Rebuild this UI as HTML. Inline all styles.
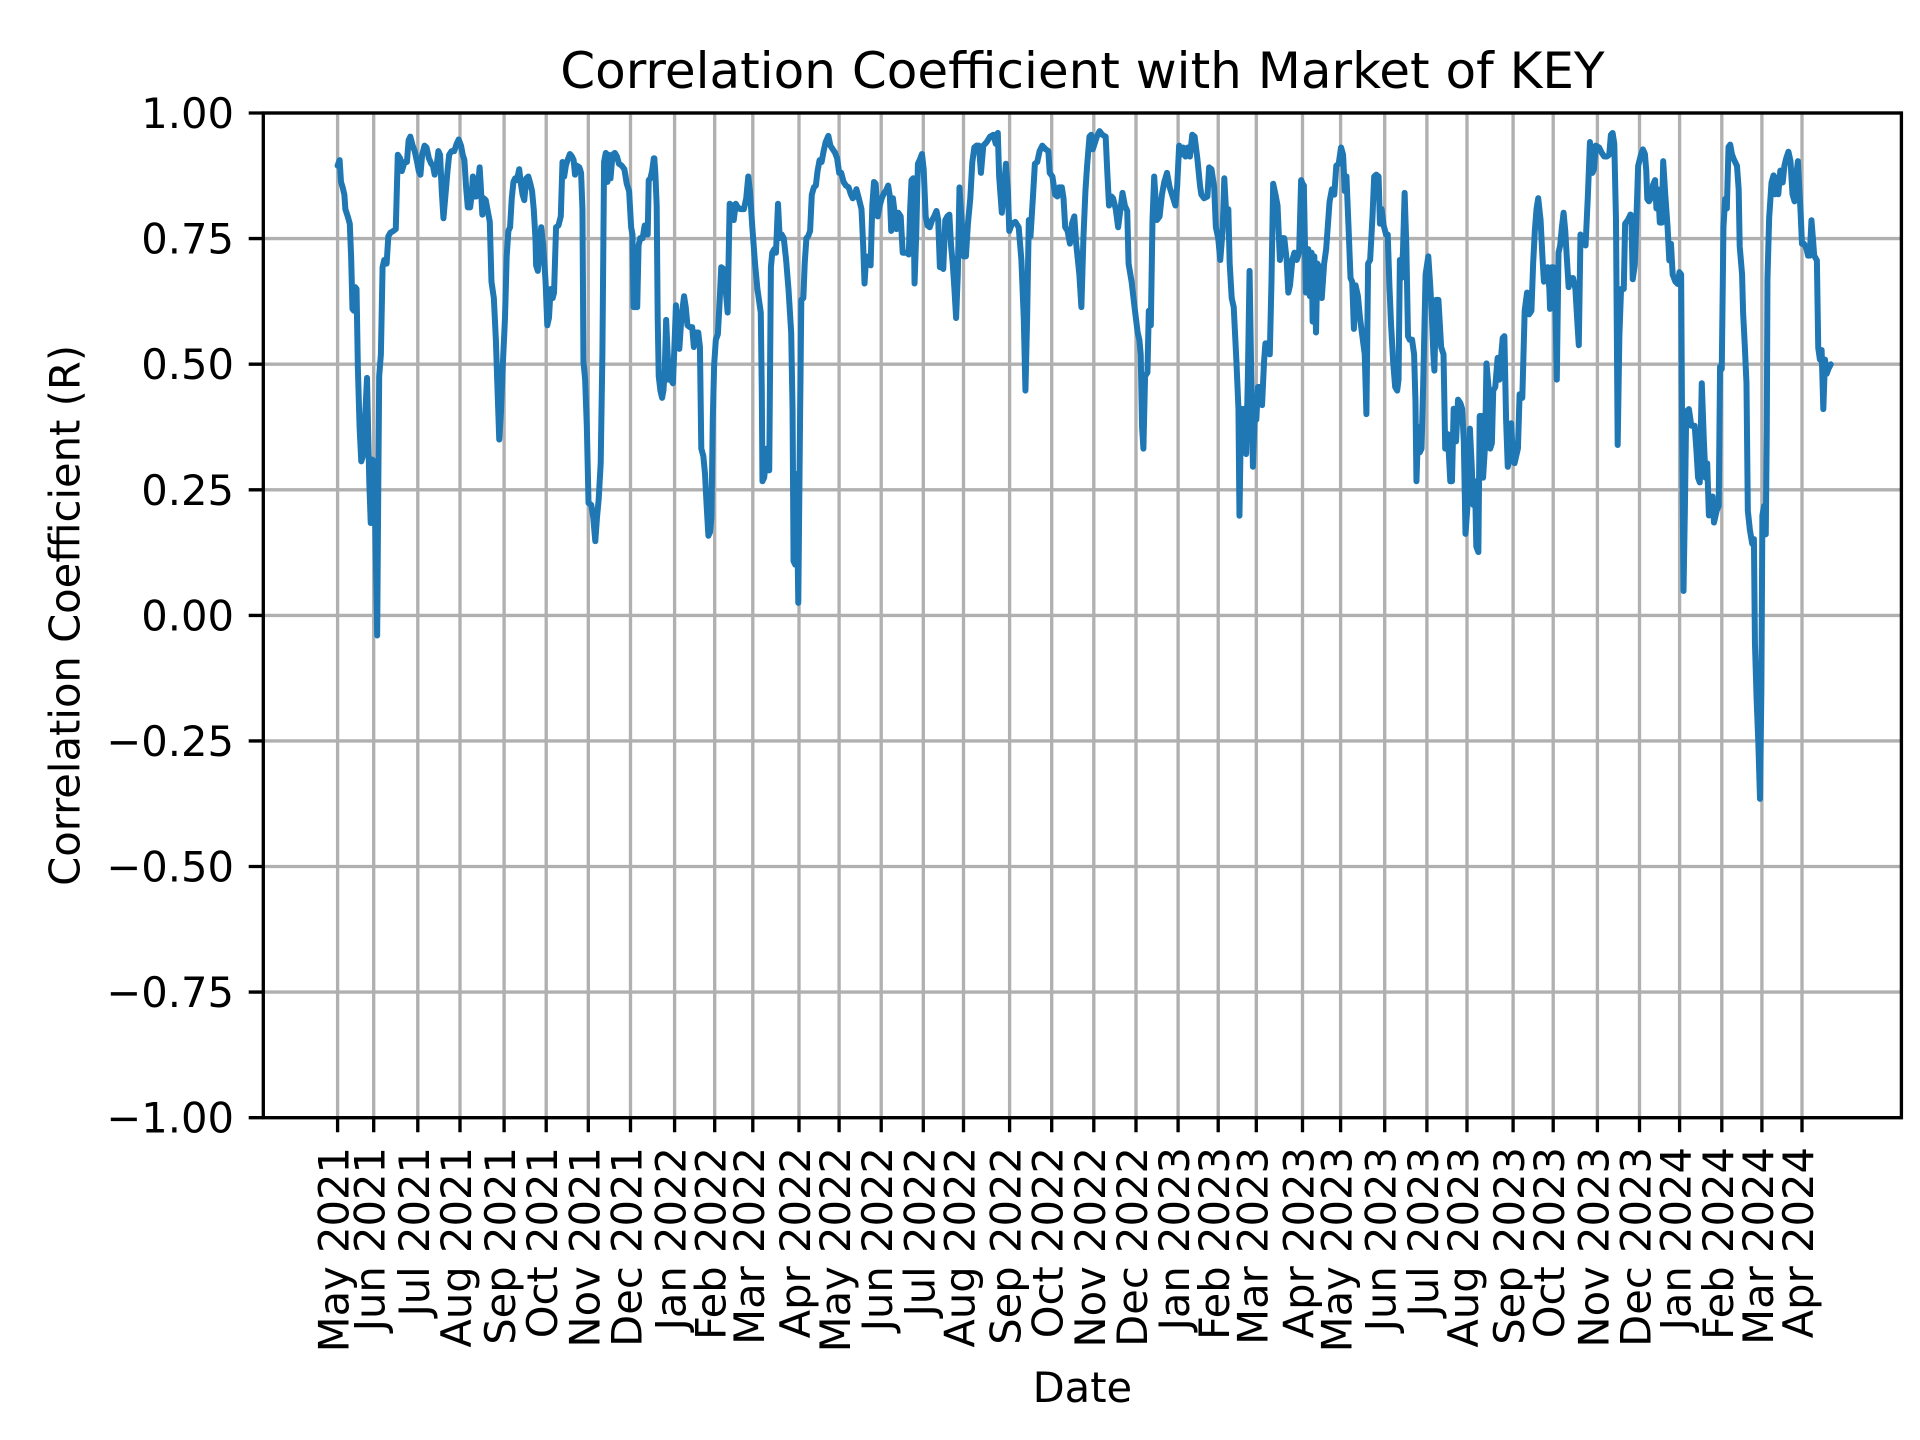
<!DOCTYPE html>
<html><head><meta charset="utf-8"><style>
html,body{margin:0;padding:0;background:#fff;}
svg{display:block;}
text{font-family:"DejaVu Sans","Liberation Sans",sans-serif;fill:#000;}
</style></head><body>
<svg width="1920" height="1440" viewBox="0 0 1920 1440" xmlns="http://www.w3.org/2000/svg">
<rect x="0" y="0" width="1920" height="1440" fill="#fff"/>
<!-- gridlines -->
<path fill="none" stroke="#b0b0b0" stroke-width="3.33" d="M337.6 113V1117.7M373.7 113V1117.7M417.8 113V1117.7M460 113V1117.7M504.1 113V1117.7M546.2 113V1117.7M588.3 113V1117.7M630.5 113V1117.7M674.6 113V1117.7M714.7 113V1117.7M752.8 113V1117.7M799 113V1117.7M839.1 113V1117.7M881.2 113V1117.7M923.3 113V1117.7M963.5 113V1117.7M1009.6 113V1117.7M1051.7 113V1117.7M1093.8 113V1117.7M1136 113V1117.7M1178.1 113V1117.7M1218.2 113V1117.7M1256.3 113V1117.7M1302.5 113V1117.7M1340.6 113V1117.7M1384.7 113V1117.7M1426.9 113V1117.7M1467 113V1117.7M1513.1 113V1117.7M1553.2 113V1117.7M1597.4 113V1117.7M1639.5 113V1117.7M1679.6 113V1117.7M1721.8 113V1117.7M1761.9 113V1117.7M1802 113V1117.7M263.3 113H1901.4M263.3 238.6H1901.4M263.3 364.2H1901.4M263.3 489.8H1901.4M263.3 615.4H1901.4M263.3 740.9H1901.4M263.3 866.5H1901.4M263.3 992.1H1901.4M263.3 1117.7H1901.4"/>
<!-- data line -->
<g fill="none" stroke="#1f77b4" stroke-width="6" stroke-linejoin="round" stroke-linecap="round">
<polyline vector-effect="non-scaling-stroke" transform="matrix(0.33818 0 0 0.36284 324.07 100.30)" points="40,180 46,165 50,225 55,240 60,260 63,300 70,320 76,340 80,430 84,575 88,580 92,515 96,520 100,740 105,900 110,995 115,980 120,900 127,765 130,900 134,1060 138,1165 142,990 148,995 152,1200 157,1475 160,1100 163,760 168,700 173,460 178,440 185,450 190,375 196,365 205,360 212,355 218,150 225,160 230,195 238,170 245,170 250,110 255,100 262,125 268,140 275,170 280,195 285,205 290,150 297,125 303,130 310,160 317,175 322,180 327,205 333,180 338,140 343,150 348,250 353,325 360,250 365,195 370,150 377,140 385,140 392,120 398,108 405,125 410,150 415,165 420,240 425,295 432,295 437,255 440,210 445,265 450,265 456,230 460,185 463,230 468,315 472,270 478,275 485,310 490,335 495,500 502,545 508,660 513,800 518,935 523,860 528,740 535,600 540,430 545,360 550,350 555,270 560,225 565,215 570,220 577,190 582,230 587,260 592,275 598,215 604,210 610,230 615,250 620,300 625,380 627,455 632,470 637,420 642,350 648,400 655,500 660,620 665,600 670,520 676,545 680,530 686,350 693,345 700,320 705,170 710,210 715,180 720,165 727,148 733,155 738,165 742,205 747,180 755,185 760,200 764,300 767,720 772,770 777,900 782,1110 790,1115 796,1150 802,1215 807,1150 812,1100 818,1000 823,700 828,170 833,145 838,225 842,150 847,215 853,150 860,145 866,155 872,175 880,180 888,190 895,230 902,250 908,350 912,370 915,570 920,570 926,570 930,400 935,380 942,380 948,345 952,365 957,370 960,220 965,215 970,195 975,160"/>
<polyline vector-effect="non-scaling-stroke" transform="matrix(0.33795 0 0 0.36284 649.25 100.30)" points="15,160 18,200 22,290 25,600 28,760 33,800 38,820 42,800 46,740 50,605 54,690 58,770 64,770 70,780 74,690 79,565 84,640 89,685 95,600 103,540 108,570 113,620 120,625 127,625 132,680 137,640 145,640 150,680 154,960 160,980 165,1030 170,1120 175,1200 180,1190 184,1150 188,880 192,730 197,660 203,645 208,560 213,460 220,465 226,520 232,585 236,380 238,285 245,290 250,330 256,285 262,295 270,300 280,300 287,270 293,210 298,250 305,350 313,450 320,520 330,585 333,800 335,1050 340,1040 345,1000 348,960 355,1020 360,460 364,420 370,410 375,420 381,285 386,380 392,370 398,380 405,440 412,520 420,640 424,850 427,1270 432,1280 436,1030 441,1385 446,900 450,550 456,545 460,450 465,380 470,375 476,360 481,260 487,240 493,235 498,195 504,165 510,170 516,140 522,115 530,98 536,125 543,135 550,145 556,160 562,200 568,200 575,225 582,235 590,240 597,260 602,270 608,265 613,245 620,270 628,300 633,400 637,505 642,430 648,440 655,455 660,290 665,225 670,230 676,320 682,290 688,270 695,255 700,250 707,235 712,265 716,360 721,270 726,310 731,355 737,310 744,320 750,420 756,420 762,420 768,425 772,300 776,220 781,215 785,505 790,370 795,175 800,165 807,148 812,190 818,320 823,345 830,350 837,330 843,320 850,305 855,330 860,460 865,400 870,465 876,330 882,320 888,315 893,400 898,450 903,520 908,600 913,480 918,240 924,330 930,430 937,430 943,340 950,270 956,170 962,130"/>
<polyline vector-effect="non-scaling-stroke" transform="matrix(0.33704 0 0 0.36284 974.88 100.30)" points="5,125 12,125 18,200 25,125 35,115 45,100 55,95 62,120 68,90 72,210 80,310 85,260 92,175 98,250 102,360 110,340 120,335 130,350 138,440 145,600 150,800 155,600 160,330 165,375 172,270 178,175 185,170 192,140 200,125 210,135 218,140 222,200 230,210 238,260 245,265 250,240 258,240 263,270 268,350 275,360 282,395 288,340 295,320 300,390 310,480 316,570 322,380 328,250 333,180 340,100 345,95 350,135 355,120 362,100 370,85 378,95 388,100 393,200 398,290 405,265 410,270 418,300 425,350 432,300 438,255 445,290 452,305 456,450 465,500 475,580 483,640 488,660 492,700 496,900 500,960 505,760 512,750 516,580 522,620 527,330 532,210 540,330 548,320 555,260 562,225 570,200 578,240 585,260 595,290 600,240 606,125 612,150 618,130 625,155 632,130 638,155 645,95 652,100 660,160 668,235 672,260 680,270 690,265 695,185 702,190 710,240 715,350 722,380 728,440 735,360 740,215 745,300 752,300 756,450 762,545 768,570 772,645 776,720 782,850 785,1145 790,850 795,970 800,850 805,975 810,760 815,470 820,760 825,1010 830,870 835,880 840,790 847,790 852,840 858,720 862,670 870,670 875,700 880,500 885,230 892,260 898,290 905,440 912,380 918,380 925,440 930,530 935,510 942,440 948,420 955,440 962,420 968,220 975,235"/>
<polyline vector-effect="non-scaling-stroke" transform="matrix(0.33818 0 0 0.36284 1299.79 100.30)" points="12,235 18,530 25,410 30,540 35,420 38,610 43,430 48,640 52,450 58,460 65,545 72,450 78,410 88,280 95,245 102,260 108,180 115,175 122,130 128,150 133,250 138,210 145,370 150,490 155,500 160,630 165,510 172,540 178,600 185,650 192,700 197,865 202,450 208,440 215,320 220,210 226,205 233,210 237,340 242,300 248,345 255,370 260,370 265,510 270,620 276,720 282,790 288,800 292,770 296,440 300,490 305,420 310,255 315,400 320,650 325,660 332,660 338,700 342,830 345,1050 350,900 355,970 360,960 365,780 372,480 380,430 385,500 390,580 395,700 398,745 403,550 410,550 418,680 425,700 430,960 437,920 440,960 445,1050 450,1050 455,850 462,940 468,825 475,835 480,850 485,940 490,1195 498,1090 503,905 508,1000 513,1115 518,1050 522,1230 528,1245 532,870 538,870 542,1040 548,950 552,725 558,790 563,960 568,945 572,800 578,790 585,710 590,770 595,710 600,655 605,650 610,880 615,1010 620,990 625,890 630,980 635,1000 645,960 650,810 658,820 665,580 672,530 678,590 685,580 690,450 695,360 700,300 705,270 712,330 718,440 722,500 728,490 733,460 738,520 740,575 745,460 750,460 755,520 760,770 765,420 770,400 775,350 780,310 785,360 790,440 795,515 800,490 808,490 815,520 820,600 825,675 830,370 838,380 845,400 852,260 858,115 865,200 870,190 875,125 885,130 893,145 900,155 908,155 915,150 920,95 925,90 930,120 935,330 940,950 945,650 950,520 958,520 962,340 970,330 978,315"/>
<polyline vector-effect="non-scaling-stroke" transform="matrix(0.33852 0 0 0.47237 1625.28 99.77)" points="18,245 22,380 28,350 33,250 38,140 45,120 52,105 58,115 62,150 65,210 70,215 78,205 82,180 88,170 92,230 97,190 102,260 108,260 112,130 118,200 125,270 130,340 135,305 140,370 148,385 155,390 160,365 165,370 168,710 172,1040 176,870 180,660 188,655 195,690 205,690 210,740 215,800 220,810 226,600 232,720 237,800 242,770 247,880 253,870 258,840 262,895 270,870 276,860 280,565 285,570 290,270 295,210 300,230 305,100 310,95 315,115 320,125 330,140 335,190 338,310 345,370 348,450 353,520 358,600 362,870 368,910 375,940 380,930 383,1150 388,1270 393,1360 398,1480 402,1250 405,880 410,860 415,920 418,700 420,380 425,250 432,175 438,160 442,200 447,165 452,200 458,150 465,175 470,140 475,125 482,110 488,130 494,200 500,215 505,160 510,130 515,200 518,240 522,305 528,305 535,315 540,330 545,330 550,255 555,300 558,330 566,340 570,525 575,550 580,530 585,655 590,550 595,580 600,570 607,560"/>
<path d="M653.8 158.4L654.3 158.4M974.4 147.5L976.6 145.7M1303.5 185.6L1303.85 185.6M1630.5 214.6L1631.4 215.5"/>
</g>
<!-- spines -->
<rect x="263.3" y="113" width="1638.1" height="1004.7" fill="none" stroke="#000" stroke-width="3.33"/>
<!-- ticks -->
<path fill="none" stroke="#000" stroke-width="3.33" d="M337.6 1117.7v14.6M373.7 1117.7v14.6M417.8 1117.7v14.6M460 1117.7v14.6M504.1 1117.7v14.6M546.2 1117.7v14.6M588.3 1117.7v14.6M630.5 1117.7v14.6M674.6 1117.7v14.6M714.7 1117.7v14.6M752.8 1117.7v14.6M799 1117.7v14.6M839.1 1117.7v14.6M881.2 1117.7v14.6M923.3 1117.7v14.6M963.5 1117.7v14.6M1009.6 1117.7v14.6M1051.7 1117.7v14.6M1093.8 1117.7v14.6M1136 1117.7v14.6M1178.1 1117.7v14.6M1218.2 1117.7v14.6M1256.3 1117.7v14.6M1302.5 1117.7v14.6M1340.6 1117.7v14.6M1384.7 1117.7v14.6M1426.9 1117.7v14.6M1467 1117.7v14.6M1513.1 1117.7v14.6M1553.2 1117.7v14.6M1597.4 1117.7v14.6M1639.5 1117.7v14.6M1679.6 1117.7v14.6M1721.8 1117.7v14.6M1761.9 1117.7v14.6M1802 1117.7v14.6M263.3 113h-14.6M263.3 238.6h-14.6M263.3 364.2h-14.6M263.3 489.8h-14.6M263.3 615.4h-14.6M263.3 740.9h-14.6M263.3 866.5h-14.6M263.3 992.1h-14.6M263.3 1117.7h-14.6"/>
<!-- y tick labels -->
<g font-size="41.67" text-anchor="end">
<text x="234" y="128">1.00</text>
<text x="234" y="253.6">0.75</text>
<text x="234" y="379.2">0.50</text>
<text x="234" y="504.8">0.25</text>
<text x="234" y="630.4">0.00</text>
<text x="234" y="755.9">−0.25</text>
<text x="234" y="881.5">−0.50</text>
<text x="234" y="1007.1">−0.75</text>
<text x="234" y="1132.7">−1.00</text>
</g>
<!-- x tick labels -->
<g font-size="41.67" text-anchor="end">
<text transform="translate(348.6,1147) rotate(-90)">May 2021</text>
<text transform="translate(384.7,1147) rotate(-90)">Jun 2021</text>
<text transform="translate(428.8,1147) rotate(-90)">Jul 2021</text>
<text transform="translate(471,1147) rotate(-90)">Aug 2021</text>
<text transform="translate(515.1,1147) rotate(-90)">Sep 2021</text>
<text transform="translate(557.2,1147) rotate(-90)">Oct 2021</text>
<text transform="translate(599.3,1147) rotate(-90)">Nov 2021</text>
<text transform="translate(641.5,1147) rotate(-90)">Dec 2021</text>
<text transform="translate(685.6,1147) rotate(-90)">Jan 2022</text>
<text transform="translate(725.7,1147) rotate(-90)">Feb 2022</text>
<text transform="translate(763.8,1147) rotate(-90)">Mar 2022</text>
<text transform="translate(810,1147) rotate(-90)">Apr 2022</text>
<text transform="translate(850.1,1147) rotate(-90)">May 2022</text>
<text transform="translate(892.2,1147) rotate(-90)">Jun 2022</text>
<text transform="translate(934.3,1147) rotate(-90)">Jul 2022</text>
<text transform="translate(974.5,1147) rotate(-90)">Aug 2022</text>
<text transform="translate(1020.6,1147) rotate(-90)">Sep 2022</text>
<text transform="translate(1062.7,1147) rotate(-90)">Oct 2022</text>
<text transform="translate(1104.8,1147) rotate(-90)">Nov 2022</text>
<text transform="translate(1147,1147) rotate(-90)">Dec 2022</text>
<text transform="translate(1189.1,1147) rotate(-90)">Jan 2023</text>
<text transform="translate(1229.2,1147) rotate(-90)">Feb 2023</text>
<text transform="translate(1267.3,1147) rotate(-90)">Mar 2023</text>
<text transform="translate(1313.5,1147) rotate(-90)">Apr 2023</text>
<text transform="translate(1351.6,1147) rotate(-90)">May 2023</text>
<text transform="translate(1395.7,1147) rotate(-90)">Jun 2023</text>
<text transform="translate(1437.9,1147) rotate(-90)">Jul 2023</text>
<text transform="translate(1478,1147) rotate(-90)">Aug 2023</text>
<text transform="translate(1524.1,1147) rotate(-90)">Sep 2023</text>
<text transform="translate(1564.2,1147) rotate(-90)">Oct 2023</text>
<text transform="translate(1608.4,1147) rotate(-90)">Nov 2023</text>
<text transform="translate(1650.5,1147) rotate(-90)">Dec 2023</text>
<text transform="translate(1690.6,1147) rotate(-90)">Jan 2024</text>
<text transform="translate(1732.8,1147) rotate(-90)">Feb 2024</text>
<text transform="translate(1772.9,1147) rotate(-90)">Mar 2024</text>
<text transform="translate(1813,1147) rotate(-90)">Apr 2024</text>
</g>
<!-- labels -->
<text x="1082.4" y="88" font-size="50" text-anchor="middle">Correlation Coefficient with Market of KEY</text>
<text x="1082.4" y="1402" font-size="41.67" text-anchor="middle">Date</text>
<text transform="translate(79.5,615.4) rotate(-90)" font-size="41.67" text-anchor="middle">Correlation Coefficient (R)</text>
</svg>
</body></html>
